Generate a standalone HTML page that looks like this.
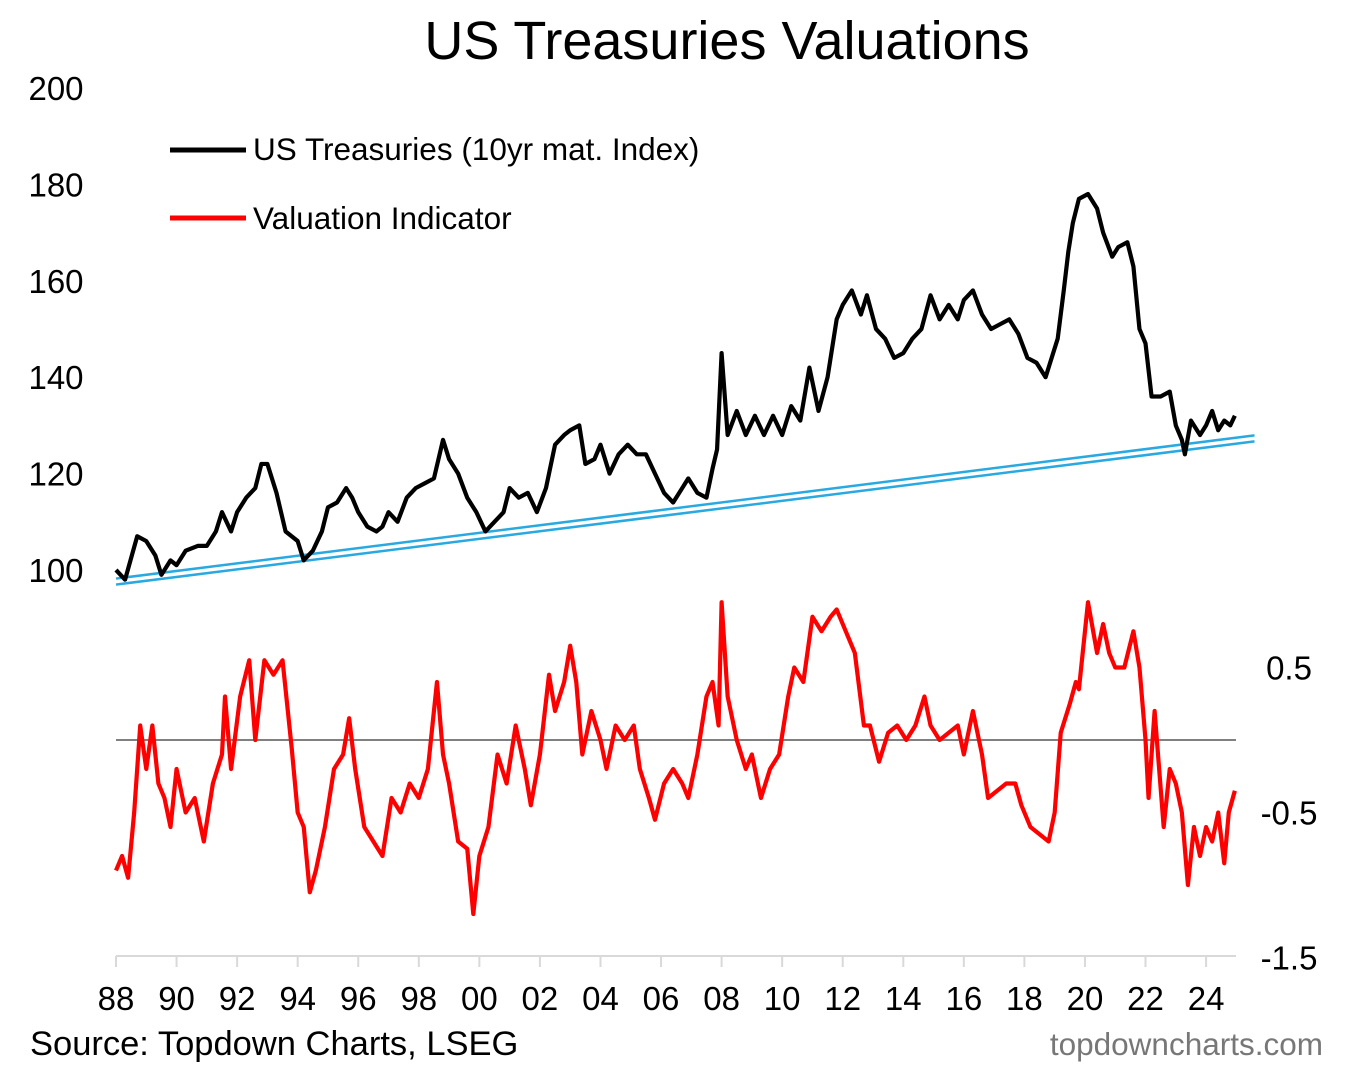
<!DOCTYPE html>
<html><head><meta charset="utf-8"><style>
html,body{margin:0;padding:0;background:#fff;}
svg{display:block;font-family:"Liberation Sans",Arial,sans-serif;}
</style></head><body>
<svg id="chart" width="1347" height="1067" viewBox="0 0 1347 1067">
<text x="727" y="59" font-size="54" text-anchor="middle" fill="#000">US Treasuries Valuations</text>
<g id="axes"></g>
<g id="series"></g>
<g>
<line x1="170" y1="150" x2="246" y2="150" stroke="#000" stroke-width="5"/>
<text x="253" y="160" font-size="31.5" fill="#000">US Treasuries (10yr mat. Index)</text>
<line x1="170" y1="218" x2="246" y2="218" stroke="#f00" stroke-width="5"/>
<text x="253" y="229" font-size="31.5" fill="#000">Valuation Indicator</text>
</g>
<text x="30" y="1055" font-size="34.5" fill="#000">Source: Topdown Charts, LSEG</text>
<text x="1323" y="1055" font-size="31.5" fill="#777" text-anchor="end">topdowncharts.com</text>
</svg>
<script>
const leftTicks=[100,120,140,160,180,200];
const rightTicks=[0.5,-0.5,-1.5];
const xTickYears=[1988,1990,1992,1994,1996,1998,2000,2002,2004,2006,2008,2010,2012,2014,2016,2018,2020,2022,2024];
const xTickLabels=["88","90","92","94","96","98","00","02","04","06","08","10","12","14","16","18","20","22","24"];
const tsYears=[1988.0,1988.3,1988.7,1989.0,1989.3,1989.5,1989.8,1990.0,1990.3,1990.7,1991.0,1991.3,1991.5,1991.8,1992.0,1992.3,1992.6,1992.8,1993.0,1993.3,1993.6,1994.0,1994.2,1994.5,1994.8,1995.0,1995.3,1995.6,1995.8,1996.0,1996.3,1996.6,1996.8,1997.0,1997.3,1997.6,1997.9,1998.2,1998.5,1998.8,1999.0,1999.3,1999.6,1999.9,2000.2,2000.5,2000.8,2001.0,2001.3,2001.6,2001.9,2002.2,2002.5,2002.8,2003.0,2003.3,2003.5,2003.8,2004.0,2004.3,2004.6,2004.9,2005.2,2005.5,2005.8,2006.1,2006.4,2006.7,2006.9,2007.2,2007.5,2007.7,2007.85,2008.0,2008.2,2008.5,2008.8,2009.1,2009.4,2009.7,2010.0,2010.3,2010.6,2010.9,2011.2,2011.5,2011.8,2012.0,2012.3,2012.6,2012.8,2013.1,2013.4,2013.7,2014.0,2014.3,2014.6,2014.9,2015.2,2015.5,2015.8,2016.0,2016.3,2016.6,2016.9,2017.2,2017.5,2017.8,2018.1,2018.4,2018.7,2018.9,2019.1,2019.3,2019.45,2019.6,2019.8,2020.1,2020.4,2020.6,2020.9,2021.1,2021.4,2021.6,2021.8,2022.0,2022.2,2022.5,2022.8,2023.0,2023.2,2023.3,2023.5,2023.8,2024.0,2024.2,2024.4,2024.6,2024.8,2024.95];
const tsValues=[100,98,107,106,103,99,102,101,104,105,105,108,112,108,112,115,117,122,122,116,108,106,102,104,108,113,114,117,115,112,109,108,109,112,110,115,117,118,119,127,123,120,115,112,108,110,112,117,115,116,112,117,126,128,129,130,122,123,126,120,124,126,124,124,120,116,114,117,119,116,115,121,125,145,128,133,128,132,128,132,128,134,131,142,133,140,152,155,158,153,157,150,148,144,145,148,150,157,152,155,152,156,158,153,150,151,152,149,144,143,140,144,148,158,166,172,177,178,175,170,165,167,168,163,150,147,136,136,137,130,127,124,131,128,130,133,129,131,130,132];
const valYears=[1988.0,1988.2,1988.4,1988.6,1988.8,1989.0,1989.2,1989.4,1989.6,1989.8,1990.0,1990.3,1990.6,1990.9,1991.2,1991.5,1991.6,1991.8,1992.1,1992.4,1992.6,1992.9,1993.2,1993.5,1993.8,1994.0,1994.2,1994.4,1994.6,1994.9,1995.2,1995.5,1995.7,1995.9,1996.2,1996.5,1996.8,1997.1,1997.4,1997.7,1998.0,1998.3,1998.6,1998.8,1999.0,1999.3,1999.6,1999.8,2000.0,2000.3,2000.6,2000.9,2001.2,2001.5,2001.7,2002.0,2002.3,2002.5,2002.8,2003.0,2003.2,2003.4,2003.7,2004.0,2004.2,2004.5,2004.8,2005.1,2005.3,2005.6,2005.8,2006.1,2006.4,2006.7,2006.9,2007.2,2007.5,2007.7,2007.9,2008.0,2008.2,2008.5,2008.8,2009.0,2009.3,2009.6,2009.9,2010.2,2010.4,2010.7,2011.0,2011.3,2011.6,2011.8,2012.1,2012.4,2012.7,2012.9,2013.2,2013.5,2013.8,2014.1,2014.4,2014.7,2014.9,2015.2,2015.5,2015.8,2016.0,2016.3,2016.6,2016.8,2017.1,2017.4,2017.7,2017.9,2018.2,2018.5,2018.8,2019.0,2019.2,2019.5,2019.7,2019.8,2020.1,2020.4,2020.6,2020.8,2021.0,2021.3,2021.6,2021.8,2022.0,2022.1,2022.3,2022.6,2022.8,2023.0,2023.2,2023.4,2023.6,2023.8,2024.0,2024.2,2024.4,2024.6,2024.75,2024.95];
const valValues=[-0.9,-0.8,-0.95,-0.5,0.1,-0.2,0.1,-0.3,-0.4,-0.6,-0.2,-0.5,-0.4,-0.7,-0.3,-0.1,0.3,-0.2,0.3,0.55,0.0,0.55,0.45,0.55,-0.05,-0.5,-0.6,-1.05,-0.9,-0.6,-0.2,-0.1,0.15,-0.2,-0.6,-0.7,-0.8,-0.4,-0.5,-0.3,-0.4,-0.2,0.4,-0.1,-0.3,-0.7,-0.75,-1.2,-0.8,-0.6,-0.1,-0.3,0.1,-0.2,-0.45,-0.1,0.45,0.2,0.4,0.65,0.4,-0.1,0.2,0.0,-0.2,0.1,0.0,0.1,-0.2,-0.4,-0.55,-0.3,-0.2,-0.3,-0.4,-0.1,0.3,0.4,0.1,0.95,0.3,0.0,-0.2,-0.1,-0.4,-0.2,-0.1,0.3,0.5,0.4,0.85,0.75,0.85,0.9,0.75,0.6,0.1,0.1,-0.15,0.05,0.1,0.0,0.1,0.3,0.1,0.0,0.05,0.1,-0.1,0.2,-0.1,-0.4,-0.35,-0.3,-0.3,-0.45,-0.6,-0.65,-0.7,-0.5,0.05,0.25,0.4,0.35,0.95,0.6,0.8,0.6,0.5,0.5,0.75,0.5,0.0,-0.4,0.2,-0.6,-0.2,-0.3,-0.5,-1.0,-0.6,-0.8,-0.6,-0.7,-0.5,-0.85,-0.5,-0.35];
const trendYears=[1988.0,2025.6];
const trendValues=[97.6,127.3];

const NS="http://www.w3.org/2000/svg";
const xS=y=>116+(y-1988)*30.28;
const yL=v=>570-(v-100)*4.82;
const yR=v=>740-v*145;
const axes=document.getElementById('axes');
const ser=document.getElementById('series');
function mk(tag,attrs,parent){const e=document.createElementNS(NS,tag);for(const k in attrs)e.setAttribute(k,attrs[k]);parent.appendChild(e);return e;}

leftTicks.forEach(v=>{
  const t=mk('text',{x:56,y:yL(v)+12,'font-size':33,'text-anchor':'middle',fill:'#000'},axes);
  
  
  t.textContent=v;
});
rightTicks.forEach(v=>{
  const t=mk('text',{x:1289,y:yR(v)+12,'font-size':33,'text-anchor':'middle',fill:'#000'},axes);
  
  
  t.textContent=v;
});
const zl=mk('line',{x1:116,x2:1236,y1:yR(0),y2:yR(0),stroke:'#808080','stroke-width':2},axes);


const xa=mk('line',{x1:116,x2:1236,y1:956,y2:956,stroke:'#d9d9d9','stroke-width':2},axes);


xTickYears.forEach((yr,i)=>{
  const tk=mk('line',{x1:xS(yr),x2:xS(yr),y1:956,y2:967,stroke:'#d9d9d9','stroke-width':2},axes);
  
  
  const t=mk('text',{x:xS(yr),y:1010,'font-size':33,'text-anchor':'middle',fill:'#000'},axes);
  
  
  t.textContent=xTickLabels[i];
});
[-3,3].forEach(off=>{
  const l=mk('line',{x1:xS(trendYears[0]),y1:yL(trendValues[0])+off,x2:xS(trendYears[1]),y2:yL(trendValues[1])+off,stroke:'#29a9e1','stroke-width':2.5},ser);
  
  
});
const p1=mk('polyline',{points:tsYears.map((y,i)=>xS(y)+','+yL(tsValues[i])).join(' '),fill:'none',stroke:'#000','stroke-width':4.2,'stroke-linejoin':'round'},ser);


const p2=mk('polyline',{points:valYears.map((y,i)=>xS(y)+','+yR(valValues[i])).join(' '),fill:'none',stroke:'#f00','stroke-width':4.2,'stroke-linejoin':'round'},ser);


</script>
</body></html>
